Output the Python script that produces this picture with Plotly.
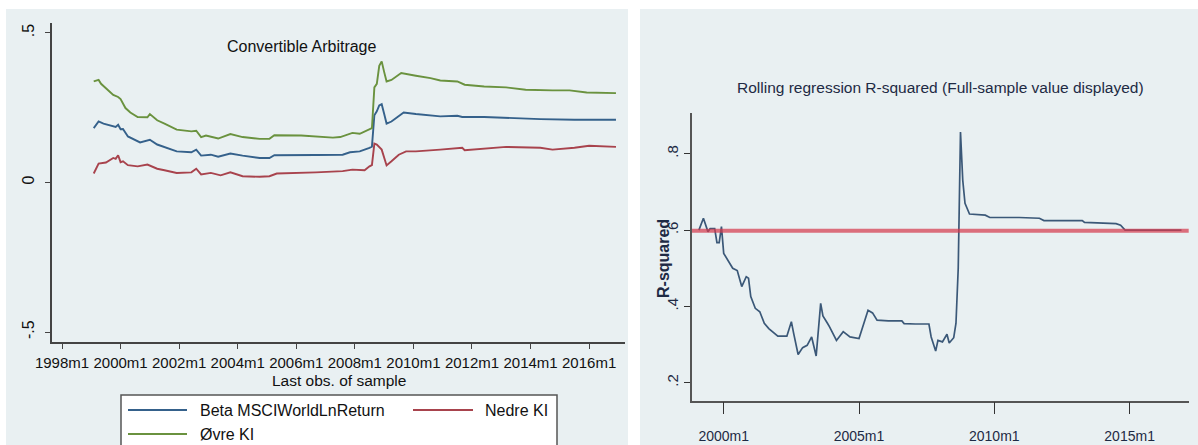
import plotly.graph_objects as go

W, H = 1198, 445

def px(x):
    return x / W

def py(y):
    return 1 - y / H

# ---------------- data (month index: 0 = 1998m1) ----------------
upper_months = [13, 15, 16, 21, 23, 24, 26, 28, 31, 35, 36, 39, 42, 47, 53, 55, 57, 59, 64, 69, 74, 81, 85, 87, 98,
                111, 114, 119, 122, 126, 127, 128, 129, 130, 131, 132, 133, 135, 139, 145, 151, 155, 162, 165, 173,
                182, 190, 201, 208, 215, 227]
upper_vals = [.338, .343, .330, .293, .286, .279, .249, .234, .219, .218, .229, .208, .197, .177, .171, .173, .152, .157,
              .147, .162, .152, .146, .146, .158, .157, .150, .152, .166, .163, .179, .182, .318, .330, .390, .405, .370,
              .338, .343, .366, .357, .349, .341, .338, .327, .321, .318, .310, .308, .308, .301, .299]

beta_months = [13, 15, 17, 22, 23, 24, 25, 27, 32, 36, 39, 42, 47, 53, 55, 57, 61, 64, 69, 74, 81, 85, 87, 104, 115,
               118, 122, 126, 127, 128, 129, 130, 131, 132, 133, 135, 138, 140, 145, 155, 162, 164, 173, 182, 196, 210,
               227]
beta_vals = [.182, .204, .197, .186, .193, .178, .179, .154, .134, .143, .127, .119, .104, .101, .110, .090, .093, .086,
             .097, .090, .082, .082, .091, .092, .093, .101, .104, .116, .120, .225, .238, .258, .262, .230, .197, .204,
             .221, .234, .229, .221, .223, .219, .219, .216, .212, .210, .210]

lower_months = [13, 15, 18, 21, 22, 23, 24, 25, 27, 31, 35, 39, 42, 47, 53, 55, 57, 61, 65, 69, 74, 81, 85, 88, 104,
                115, 119, 124, 126, 127, 128, 129, 131, 133, 135, 138, 141, 145, 155, 164, 165, 173, 182, 196, 201, 210,
                216, 227]
lower_vals = [.030, .063, .067, .082, .079, .091, .068, .071, .058, .054, .060, .046, .041, .032, .034, .046, .027, .032,
              .024, .034, .021, .019, .021, .030, .034, .038, .043, .041, .054, .058, .130, .127, .110, .057, .071, .093,
              .104, .104, .110, .116, .108, .112, .119, .116, .110, .116, .123, .119]

r2_months = [13, 15, 17, 18, 20, 21, 22, 23, 24, 26, 28, 30, 32, 34, 35, 36, 38, 40, 42, 44, 48, 52, 54, 55, 57, 59, 61,
             63, 65, 67, 68, 70, 71, 74, 75, 77, 80, 84, 88, 90, 92, 97, 103, 104, 109, 115, 116, 118, 119, 121, 123,
             124, 126, 127, 128, 129, 130, 131, 133, 140, 142, 155, 164, 166, 183, 184, 198, 200, 202, 214, 227]
r2_vals = [.600, .631, .596, .604, .604, .567, .567, .609, .539, .521, .500, .494, .452, .478, .474, .426, .395, .386,
           .356, .342, .322, .322, .360, .330, .274, .292, .298, .320, .270, .408, .375, .356, .346, .311, .318, .334,
           .320, .316, .390, .383, .364, .362, .362, .355, .354, .354, .320, .283, .311, .307, .327, .304, .318, .356,
           .500, .857, .731, .670, .642, .639, .633, .633, .631, .625, .625, .620, .617, .613, .600, .600, .600]
full_sample_r2 = 0.598

left_tickvals = [0, 24, 48, 72, 96, 120, 144, 168, 192, 216]
left_ticktext = ["1998m1", "2000m1", "2002m1", "2004m1", "2006m1", "2008m1", "2010m1", "2012m1", "2014m1", "2016m1"]
left_ytickvals = [-0.5, 0, 0.5]
left_yticktext = ["-.5", "0", ".5"]
right_tickvals = [24, 84, 144, 204]
right_ticktext = ["2000m1", "2005m1", "2010m1", "2015m1"]
right_ytickvals = [0.2, 0.4, 0.6, 0.8]
right_yticktext = [".2", ".4", ".6", ".8"]

series_names = ["Beta MSCIWorldLnReturn", "Nedre KI", "Øvre KI"]

# ---------------- styles ----------------
BLUE = "#35618b"
RED = "#a8434d"
GREEN = "#6a923f"
NAVY = "#3b5878"
BG = "#e9f0f2"
GRID = "#e9f0f2"
SANS = "Liberation Sans, Arial, sans-serif"
TXT2 = "#1e2a44"

fig = go.Figure()
fig.add_trace(go.Scatter(x=beta_months, y=beta_vals, mode="lines", name=series_names[0],
                         line=dict(color=BLUE, width=1.9), xaxis="x", yaxis="y", showlegend=False))
fig.add_trace(go.Scatter(x=lower_months, y=lower_vals, mode="lines", name=series_names[1],
                         line=dict(color=RED, width=1.9), xaxis="x", yaxis="y", showlegend=False))
fig.add_trace(go.Scatter(x=upper_months, y=upper_vals, mode="lines", name=series_names[2],
                         line=dict(color=GREEN, width=1.9), xaxis="x", yaxis="y", showlegend=False))
fig.add_trace(go.Scatter(x=r2_months, y=r2_vals, mode="lines", name="R-squared",
                         line=dict(color=NAVY, width=1.7), xaxis="x2", yaxis="y2", showlegend=False))

shapes = [
    # panel backgrounds
    dict(type="rect", xref="paper", yref="paper", x0=px(6), x1=px(628), y0=0, y1=py(9),
         fillcolor=BG, line=dict(width=0), layer="below"),
    dict(type="rect", xref="paper", yref="paper", x0=px(640), x1=1, y0=0, y1=py(9),
         fillcolor=BG, line=dict(width=0), layer="below"),
    # full-sample R2 reference line
    dict(type="line", xref="x2 domain", yref="y2", x0=0, x1=1, y0=full_sample_r2, y1=full_sample_r2,
         line=dict(color="rgba(214,60,78,0.72)", width=4), layer="above"),
    # legend box
    dict(type="rect", xref="paper", yref="paper", x0=px(121), x1=px(557), y0=py(452), y1=py(395),
         fillcolor="white", line=dict(color="#555555", width=1.5)),
]
legend_rows = [(128, 187, 410, BLUE, 198, series_names[0]),
               (413, 473, 410, RED, 483, series_names[1]),
               (128, 187, 434, GREEN, 198, series_names[2])]
annotations = []
for x0, x1, yy, col, tx, name in legend_rows:
    shapes.append(dict(type="line", xref="paper", yref="paper", x0=px(x0), x1=px(x1), y0=py(yy), y1=py(yy),
                       line=dict(color=col, width=1.9)))
    annotations.append(dict(xref="paper", yref="paper", x=px(tx), y=py(yy), text=name, showarrow=False,
                            xanchor="left", yanchor="middle", font=dict(family=SANS, size=16, color="#111111")))

annotations += [
    dict(xref="paper", yref="paper", x=px(302), y=py(46), text="Convertible Arbitrage", showarrow=False,
         xanchor="center", yanchor="middle", font=dict(family=SANS, size=16, color="#111111")),
    dict(xref="paper", yref="paper", x=px(338.5), y=py(380), text="Last obs. of sample", showarrow=False,
         xanchor="center", yanchor="middle", font=dict(family=SANS, size=15.5, color="#111111")),
    dict(xref="paper", yref="paper", x=px(940), y=py(88),
         text="Rolling regression R-squared (Full-sample value displayed)", showarrow=False,
         xanchor="center", yanchor="middle", font=dict(family=SANS, size=15.5, color=TXT2)),
    dict(xref="paper", yref="paper", x=px(663), y=py(259), text="<b>R-squared</b>", showarrow=False,
         textangle=-90, xanchor="center", yanchor="middle", font=dict(family=SANS, size=16, color=TXT2)),
]

fig.update_layout(
    width=W, height=H, margin=dict(l=0, r=0, t=0, b=0, autoexpand=False),
    paper_bgcolor="white", plot_bgcolor="white",
    shapes=shapes, annotations=annotations,
    xaxis=dict(domain=[px(52), px(625)], anchor="y", range=[-4.1, 230.7], automargin=False,
               tickmode="array", tickvals=left_tickvals, ticktext=left_ticktext, tickangle=0,
               ticks="outside", ticklen=5, tickwidth=1.3, tickcolor="#444444", ticklabelstandoff=1,
               showline=True, linecolor="#444444", linewidth=1.5, showgrid=False, zeroline=False,
               tickfont=dict(family=SANS, size=15, color="#111111")),
    yaxis=dict(domain=[py(342), py(23)], anchor="x", range=[-0.5334, 0.5334], automargin=False,
               tickmode="array", tickvals=left_ytickvals, ticktext=left_yticktext, tickangle=-90,
               ticks="outside", ticklen=5, tickwidth=1.3, tickcolor="#444444", ticklabelstandoff=5,
               showline=True, linecolor="#444444", linewidth=1.5,
               showgrid=True, gridcolor=GRID, gridwidth=1.5, zeroline=False,
               tickfont=dict(family=SANS, size=16, color="#111111")),
    xaxis2=dict(domain=[px(692), px(1188.7)], anchor="y2", range=[9.94, 230.2], automargin=False,
                tickmode="array", tickvals=right_tickvals, ticktext=right_ticktext, tickangle=0,
                ticks="outside", ticklen=12, tickwidth=1.3, tickcolor="#333333", ticklabelstandoff=10,
                showline=True, linecolor="#555555", linewidth=1.5, showgrid=False, zeroline=False,
                tickfont=dict(family=SANS, size=14, color=TXT2)),
    yaxis2=dict(domain=[py(400.7), py(113.3)], anchor="x2", range=[0.153, 0.906], automargin=False,
                tickmode="array", tickvals=right_ytickvals, ticktext=right_yticktext, tickangle=-90,
                ticks="outside", ticklen=6, tickwidth=1.3, tickcolor="#333333", ticklabelstandoff=0,
                showline=True, linecolor="#555555", linewidth=1.5,
                showgrid=True, gridcolor=GRID, gridwidth=1.5, zeroline=False,
                tickfont=dict(family=SANS, size=15, color=TXT2)),
)

fig.write_html("out.html")
